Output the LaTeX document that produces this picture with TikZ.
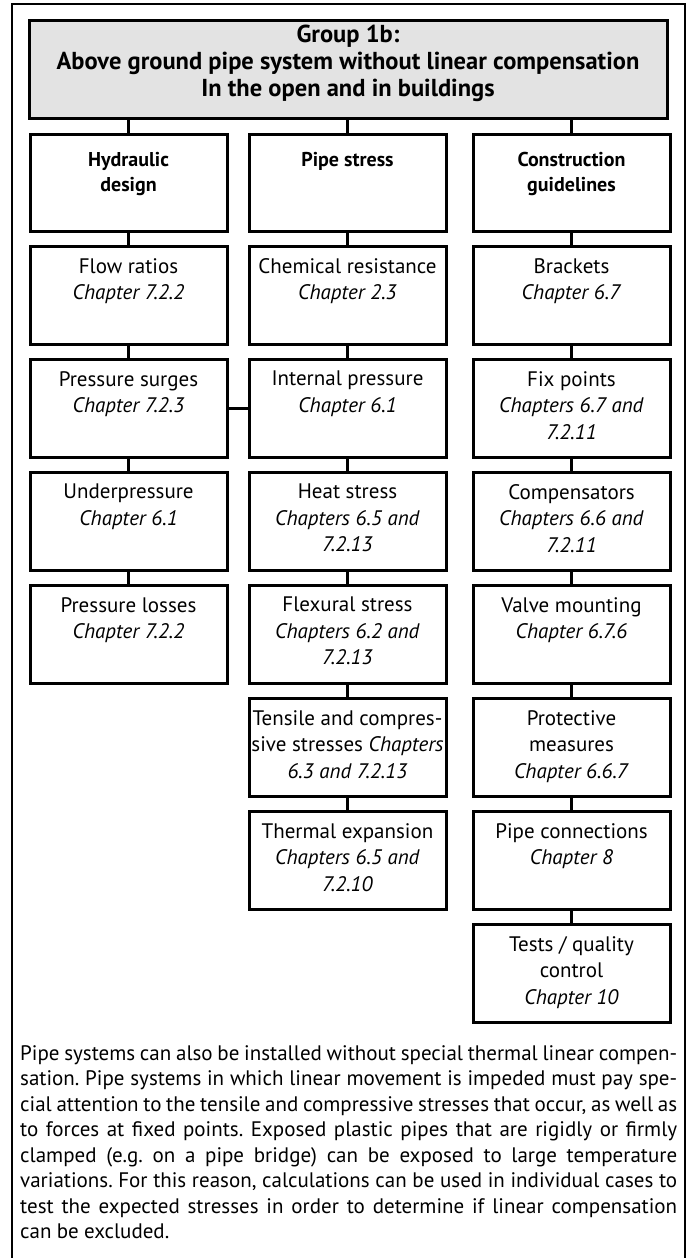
\documentclass[tikz,border=0pt]{standalone}
\usepackage{fontspec}
\setmainfont{PT Sans}
\definecolor{hdrgray}{HTML}{E3E3E3}
\newcommand{\boxfont}{\fontsize{21}{26.5}\selectfont}
\newcommand{\hdrfont}{\fontsize{20}{25}\selectfont\bfseries}
\newcommand{\topfont}{\fontsize{24.5}{27}\selectfont\bfseries}
\newcommand{\parafont}{\fontsize{21}{25.5}\selectfont}
\newcommand{\ch}[1]{\textit{#1}}
\tikzset{
  boxnode/.style={draw, line width=3pt, minimum width=197pt, minimum height=98pt, inner sep=0pt, anchor=north},
  boxtext/.style={anchor=north, align=center, inner sep=0pt, font=\boxfont},
  colhead/.style={boxnode, minimum height=97pt},
  colheadtext/.style={anchor=north, align=center, inner sep=0pt, font=\hdrfont},
  toptext/.style={anchor=north, align=center, inner sep=0pt, font=\topfont},
  link/.style={line width=3pt},
  frameline/.style={line width=1.1pt},
}
\begin{document}
\begin{tikzpicture}[x=1pt,y=-1pt]
\useasboundingbox (0,0) rectangle (692,1258);
\draw[frameline] (12,1258) -- (12,4) -- (685,4) -- (685,1258);
% header
\node[draw, line width=3pt, fill=hdrgray, minimum width=638pt, minimum height=98pt, inner sep=0pt, anchor=north] (hdr) at (348,19) {};
\node[toptext] (hdrt) at ([yshift=-6pt]hdr.north) {Group 1b:\\Above ground pipe system without linear compensation\\In the open and in buildings};
% column heads
\node[colhead] (c1) at (128.5,133) {};
\node[colhead] (c2) at (347.5,133) {};
\node[colhead] (c3) at (571.5,133) {};
\node[colheadtext] (c1t) at ([yshift=-19pt]c1.north) {Hydraulic\\design};
\node[colheadtext] (c2t) at ([yshift=-19pt]c2.north) {Pipe stress};
\node[colheadtext] (c3t) at ([yshift=-19pt]c3.north) {Construction\\guidelines};
% hydraulic column
\node[boxnode] (h1) at (128.5,245) {};
\node[boxnode] (h2) at (128.5,358) {};
\node[boxnode] (h3) at (128.5,471) {};
\node[boxnode] (h4) at (128.5,584) {};
\node[boxtext] (h1t) at ([yshift=-13pt]h1.north) {Flow ratios\\\ch{Chapter 7.2.2}};
\node[boxtext] (h2t) at ([yshift=-13pt]h2.north) {Pressure surges\\\ch{Chapter 7.2.3}};
\node[boxtext] (h3t) at ([yshift=-13pt]h3.north) {Underpressure\\\ch{Chapter 6.1}};
\node[boxtext] (h4t) at ([yshift=-13pt]h4.north) {Pressure losses\\\ch{Chapter 7.2.2}};
% pipe stress column
\node[boxnode] (p1) at (347.5,245) {};
\node[boxnode] (p2) at (347.5,358) {};
\node[boxnode] (p3) at (347.5,471) {};
\node[boxnode] (p4) at (347.5,584) {};
\node[boxnode] (p5) at (347.5,697) {};
\node[boxnode] (p6) at (347.5,810) {};
\node[boxtext] (p1t) at ([yshift=-13pt]p1.north) {Chemical resistance\\\ch{Chapter 2.3}};
\node[boxtext] (p2t) at ([yshift=-13pt]p2.north) {Internal pressure\\\ch{Chapter 6.1}};
\node[boxtext] (p3t) at ([yshift=-13pt]p3.north) {Heat stress\\\ch{Chapters 6.5 and}\\\ch{7.2.13}};
\node[boxtext] (p4t) at ([yshift=-13pt]p4.north) {Flexural stress\\\ch{Chapters 6.2 and}\\\ch{7.2.13}};
\node[boxtext] (p5t) at ([yshift=-13pt]p5.north) {Tensile and compres-\\sive stresses \ch{Chapters}\\\ch{6.3 and 7.2.13}};
\node[boxtext] (p6t) at ([yshift=-13pt]p6.north) {Thermal expansion\\\ch{Chapters 6.5 and}\\\ch{7.2.10}};
% construction column
\node[boxnode] (k1) at (571.5,245) {};
\node[boxnode] (k2) at (571.5,358) {};
\node[boxnode] (k3) at (571.5,471) {};
\node[boxnode] (k4) at (571.5,584) {};
\node[boxnode] (k5) at (571.5,697) {};
\node[boxnode] (k6) at (571.5,810) {};
\node[boxnode] (k7) at (571.5,923) {};
\node[boxtext] (k1t) at ([yshift=-13pt]k1.north) {Brackets\\\ch{Chapter 6.7}};
\node[boxtext] (k2t) at ([yshift=-13pt]k2.north) {Fix points\\\ch{Chapters 6.7 and}\\\ch{7.2.11}};
\node[boxtext] (k3t) at ([yshift=-13pt]k3.north) {Compensators\\\ch{Chapters 6.6 and}\\\ch{7.2.11}};
\node[boxtext] (k4t) at ([yshift=-13pt]k4.north) {Valve mounting\\\ch{Chapter 6.7.6}};
\node[boxtext] (k5t) at ([yshift=-13pt]k5.north) {Protective\\measures\\\ch{Chapter 6.6.7}};
\node[boxtext] (k6t) at ([yshift=-13pt]k6.north) {Pipe connections\\\ch{Chapter 8}};
\node[boxtext] (k7t) at ([yshift=-13pt]k7.north) {Tests / quality\\control\\\ch{Chapter 10}};
% connectors
\draw[link] (hdr.south -| c1.north) -- (c1.north);
\draw[link] (hdr.south -| c2.north) -- (c2.north);
\draw[link] (hdr.south -| c3.north) -- (c3.north);
\draw[link] (c1.south) -- (h1.north);
\draw[link] (h1.south) -- (h2.north);
\draw[link] (h2.south) -- (h3.north);
\draw[link] (h3.south) -- (h4.north);
\draw[link] (c2.south) -- (p1.north);
\draw[link] (p1.south) -- (p2.north);
\draw[link] (p2.south) -- (p3.north);
\draw[link] (p3.south) -- (p4.north);
\draw[link] (p4.south) -- (p5.north);
\draw[link] (p5.south) -- (p6.north);
\draw[link] (c3.south) -- (k1.north);
\draw[link] (k1.south) -- (k2.north);
\draw[link] (k2.south) -- (k3.north);
\draw[link] (k3.south) -- (k4.north);
\draw[link] (k4.south) -- (k5.north);
\draw[link] (k5.south) -- (k6.north);
\draw[link] (k6.south) -- (k7.north);
\draw[link] (h2.east) -- (p2.west);
% paragraph
\node[anchor=north west, inner sep=0pt, text width=657pt, align=justify, font=\parafont] (para) at (20,1045) {\frenchspacing\hyphenpenalty=10000\tolerance=10000
\spaceskip=0.25em plus 0.5em minus 0.07em
Pipe systems can also be installed without special thermal linear compen-\linebreak
sation. Pipe systems in which linear movement is impeded must pay spe-\linebreak
cial attention to the tensile and compressive stresses that occur, as well as\linebreak
to forces at fixed points. Exposed plastic pipes that are rigidly or firmly\linebreak
clamped (e.g. on a pipe bridge) can be exposed to large temperature\linebreak
variations. For this reason, calculations can be used in individual cases to\linebreak
test the expected stresses in order to determine if linear compensation\linebreak
can be excluded.};
\end{tikzpicture}
\end{document}
